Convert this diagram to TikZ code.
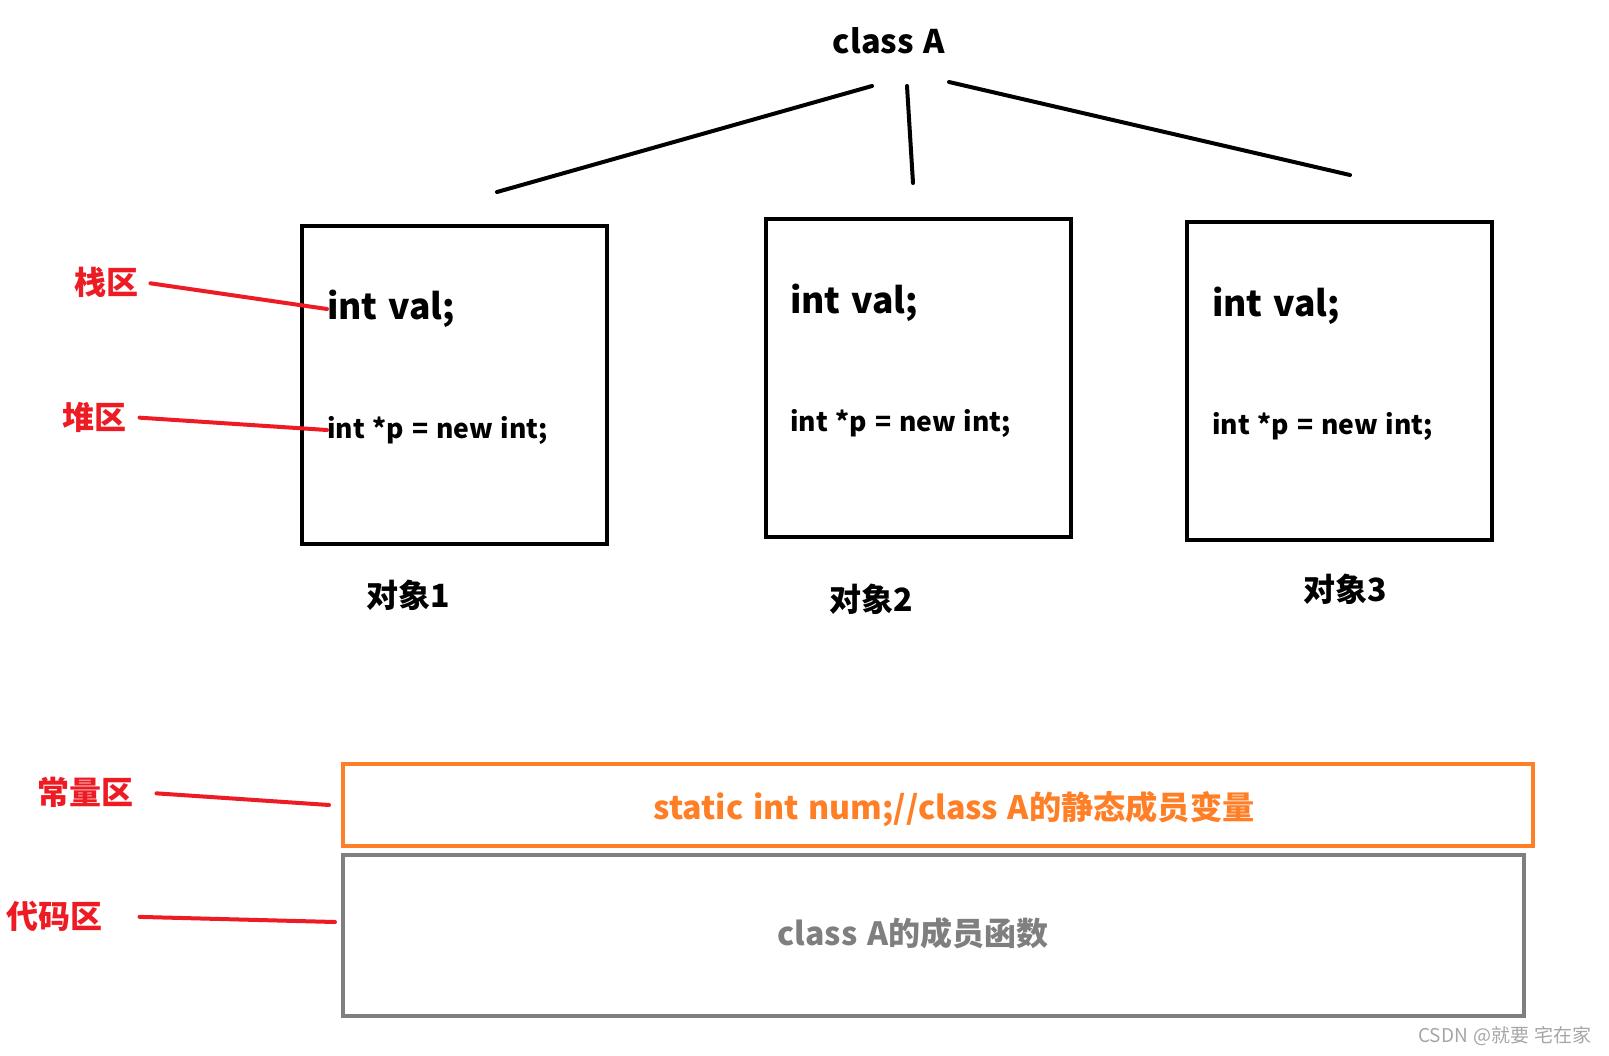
\documentclass[tikz,border=0pt]{standalone}
\usepackage{fontspec}
\setmainfont{Noto Sans CJK SC}[WordSpace=1.3]
\usetikzlibrary{positioning}
\definecolor{zonered}{RGB}{237,28,36}
\definecolor{constorange}{RGB}{255,127,39}
\definecolor{codegray}{RGB}{127,127,127}
\newcommand{\setfs}[1]{\fontsize{#1}{#1}\selectfont}

\begin{document}
\begin{tikzpicture}[x=1pt,y=-1pt,
  objbox/.style={draw,line width=4pt,minimum width=305pt,minimum height=318pt,inner sep=0pt},
  valtxt/.style={anchor=west,inner sep=0pt,font=\bfseries\setfs{35.5}},
  ptrtxt/.style={anchor=west,inner sep=0pt,font=\bfseries\setfs{26.5}},
  objname/.style={font=\bfseries\setfs{32}},
  zonename/.style={text=zonered,font=\bfseries\setfs{32}},
  zoneline/.style={draw=zonered,line width=4pt,line cap=round},
  treeline/.style={line width=4pt,line cap=round}]
  \useasboundingbox (0,0) rectangle (1609,1055);
  % 类与三个对象
  \node[font=\bfseries\setfs{32.5}] (classA) at (889,41) {class A};
  \coordinate (top1) at (872,86); \coordinate (end1) at (497,192);
  \coordinate (top2) at (907,86); \coordinate (end2) at (913,183);
  \coordinate (top3) at (949,82); \coordinate (end3) at (1350,175);
  \draw[treeline] (top1) -- (end1);
  \draw[treeline] (top2) -- (end2);
  \draw[treeline] (top3) -- (end3);
  \node[objbox] (obj1) at (454.5,385) {};
  \node[objbox] (obj2) at (918,378) {};
  \node[objbox] (obj3) at (1339,381) {};
  \node[valtxt] (val1) at (327,309) {int val;};
  \node[valtxt] (val2) at (790,303) {int val;};
  \node[valtxt] (val3) at (1212,306) {int val;};
  \node[ptrtxt] (ptr1) at (327,430) {int *p = new int;};
  \node[ptrtxt] (ptr2) at (790,423) {int *p = new int;};
  \node[ptrtxt] (ptr3) at (1212,426) {int *p = new int;};
  \node[objname] (name1) at (408,595) {对象1};
  \node[objname] (name2) at (871,599) {对象2};
  \node[objname] (name3) at (1345,589) {对象3};
  % 静态成员与成员函数
  \node[draw=constorange,line width=4pt,minimum width=1190pt,minimum height=82pt,inner sep=0pt] (const) at (938,805) {};
  \node[text=constorange,font=\bfseries\setfs{32.2}] (constxt) at (954,809) {static int num;//class A的静态成员变量};
  \node[draw=codegray,line width=4pt,minimum width=1181pt,minimum height=161pt,inner sep=0pt] (code) at (933.5,935.5) {};
  \node[text=codegray,font=\bfseries\setfs{32}] (codetxt) at (913,933) {class A的成员函数};
  % 内存分区
  \node[zonename] (stack) at (106,282) {栈区};
  \node[zonename] (heap) at (94,417) {堆区};
  \node[zonename] (constzone) at (85,792) {常量区};
  \node[zonename] (codezone) at (54,916) {代码区};
  \coordinate (constend) at (329,805);
  \coordinate (codeend) at (335,922);
  \draw[zoneline,shorten <=9pt] (stack.east) -- (val1.west);
  \draw[zoneline,shorten <=10pt] (heap.east) -- (ptr1.west);
  \draw[zoneline,shorten <=20pt] (constzone.east) -- (constend);
  \draw[zoneline,shorten <=34pt] (codezone.east) -- (codeend);
  \node[text=black!35,font=\setfs{19}] (mark) at (1505,1036) {CSDN @就要 宅在家};
\end{tikzpicture}
\end{document}
